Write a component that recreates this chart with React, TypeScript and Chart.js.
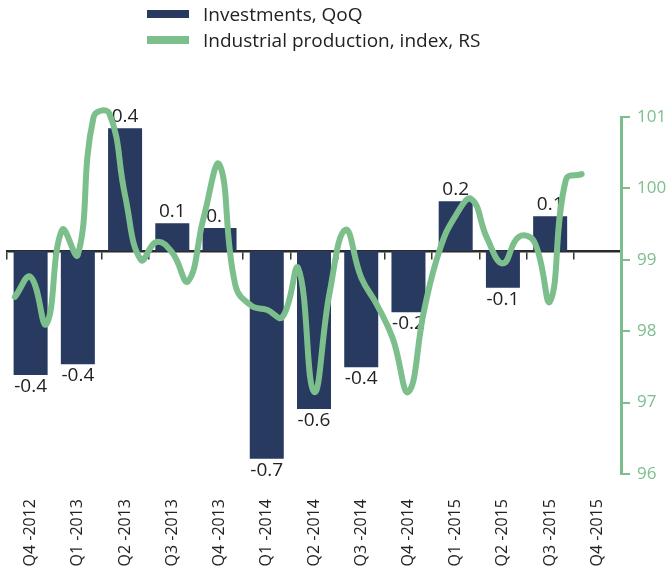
import React, { useEffect, useRef } from "react";
import { Chart, registerables } from "chart.js";

Chart.register(...registerables);

const quarters = [
  "Q4 -2012", "Q1 -2013", "Q2 -2013", "Q3 -2013", "Q4 -2013",
  "Q1 -2014", "Q2 -2014", "Q3 -2014", "Q4 -2014",
  "Q1 -2015", "Q2 -2015", "Q3 -2015", "Q4 -2015",
];

// Investments, QoQ (bar heights)
const investments = [-0.405, -0.37, 0.4, 0.09, 0.075, -0.678, -0.516, -0.38, -0.2, 0.162, -0.12, 0.113, null];
// Printed value labels
const investmentLabels = ["-0.4", "-0.4", "0.4", "0.1", "0.1", "-0.7", "-0.6", "-0.4", "-0.2", "0.2", "-0.1", "0.1", ""];

// Industrial production index, monthly Oct 2012 .. Oct 2015 (right scale)
const industrialMonthly = [
  98.48, 98.76, 98.1, 99.42, 99.07, 101.0, 101.05, 99.9, 99.0, 99.25,
  99.1, 98.7, 99.6, 100.33, 98.65, 98.36, 98.3, 98.2, 98.88, 97.15,
  98.55, 99.42, 98.75, 98.37, 97.9, 97.15, 98.3, 99.15, 99.62, 99.85,
  99.3, 98.95, 99.32, 99.25, 98.42, 100.12, 100.2,
];

const rightTicks = [96, 97, 98, 99, 100, 101];

const NAVY = "#283a60";
const GREEN = "#7cbf8c";
const TEXT = "#222222";
const FONT = "'Open Sans'";

const BAR_INDEX = 1;

const barLabelPlugin = {
  id: "barLabels",
  afterDatasetDraw(chart: any, args: any) {
    if (args.index !== BAR_INDEX) return;
    const ctx = chart.ctx;
    ctx.save();
    ctx.font = `19px ${FONT}`;
    ctx.fillStyle = TEXT;
    ctx.textAlign = "center";
    ctx.textBaseline = "alphabetic";
    args.meta.data.forEach((el: any, i: number) => {
      const v = investments[i];
      if (v == null) return;
      const { x, y } = el.getProps(["x", "y"], true);
      if (v >= 0) ctx.fillText(investmentLabels[i], x, y - 6);
      else ctx.fillText(investmentLabels[i], x, y + 17);
    });
    ctx.restore();
  },
};

export default function App() {
  const ref = useRef<HTMLCanvasElement | null>(null);

  useEffect(() => {
    if (!ref.current) return;
    Chart.defaults.font.family = FONT;
    const linePoints = industrialMonthly.map((v, i) => ({ x: (i - 1) / 3, y: v }));
    const chart = new Chart(ref.current, {
      type: "bar",
      data: {
        labels: quarters,
        datasets: [
          {
            type: "line",
            label: "Industrial production, index, RS",
            data: linePoints as any,
            xAxisID: "xl",
            yAxisID: "y2",
            borderColor: GREEN,
            borderWidth: 6,
            tension: 0.45,
            pointRadius: 0,
            borderCapStyle: "round",
            borderJoinStyle: "round",
            capBezierPoints: false,
            clip: false,
            fill: false,
          } as any,
          {
            type: "bar",
            label: "Investments, QoQ",
            data: investments as any,
            xAxisID: "x",
            yAxisID: "y",
            backgroundColor: NAVY,
            grouped: false,
            categoryPercentage: 1,
            barPercentage: 0.72,
          } as any,
        ],
      },
      options: {
        animation: false,
        responsive: false,
        layout: { padding: { left: 7, top: 117, right: 0, bottom: 0 } },
        elements: { line: { capBezierPoints: false } },
        plugins: { legend: { display: false }, tooltip: { enabled: false } },
        scales: {
          x: {
            type: "category",
            position: "bottom",
            offset: true,
            grid: { display: false, drawTicks: false, offset: true },
            border: { display: false },
            ticks: {
              minRotation: 90,
              maxRotation: 90,
              padding: 25,
              color: TEXT,
              font: { size: 16 },
            },
            afterFit: (s: any) => {
              s.height = 97;
            },
          },
          xz: {
            type: "category",
            position: { y: 0 } as any,
            offset: true,
            grid: {
              display: true,
              offset: true,
              drawOnChartArea: false,
              drawTicks: true,
              tickLength: 7,
              color: "#333333",
              lineWidth: 1.5,
            },
            border: { display: true, color: "#2a2a2a", width: 2.5 },
            ticks: { display: false },
          },
          xl: {
            type: "linear",
            display: false,
            offset: false,
            grid: { offset: false },
            min: -0.5,
            max: 12.5,
          },
          y: { type: "linear", display: false, min: -0.728, max: 0.437 },
          y2: {
            type: "linear",
            position: "right",
            min: rightTicks[0],
            max: rightTicks[rightTicks.length - 1],
            afterBuildTicks: (s: any) => {
              s.ticks = rightTicks.map((v) => ({ value: v }));
            },
            ticks: { color: GREEN, font: { size: 17 }, padding: 7 },
            grid: {
              drawOnChartArea: false,
              drawTicks: true,
              tickLength: 9,
              color: GREEN,
              lineWidth: 2,
            },
            border: { color: GREEN, width: 3 },
            afterFit: (s: any) => {
              s.width = 45;
            },
          },
        } as any,
      },
      plugins: [barLabelPlugin],
    });
    return () => chart.destroy();
  }, []);

  const row: React.CSSProperties = { display: "flex", alignItems: "center", height: 26 };
  const box = (c: string): React.CSSProperties => ({
    display: "inline-block",
    width: 42,
    height: 8,
    background: c,
    marginRight: 14,
  });

  return (
    <div style={{ position: "absolute", left: 0, top: 0, width: 666, height: 571 }}>
      <canvas ref={ref} width={666} height={571} style={{ position: "absolute", left: 0, top: 0 }} />
      <div
        style={{
          position: "absolute",
          left: 147,
          top: 1,
          fontFamily: FONT,
          fontSize: 19,
          color: TEXT,
          whiteSpace: "nowrap",
        }}
      >
        <div style={row}>
          <span style={box(NAVY)} />
          <span>Investments, QoQ</span>
        </div>
        <div style={row}>
          <span style={box(GREEN)} />
          <span>Industrial production, index, RS</span>
        </div>
      </div>
    </div>
  );
}
